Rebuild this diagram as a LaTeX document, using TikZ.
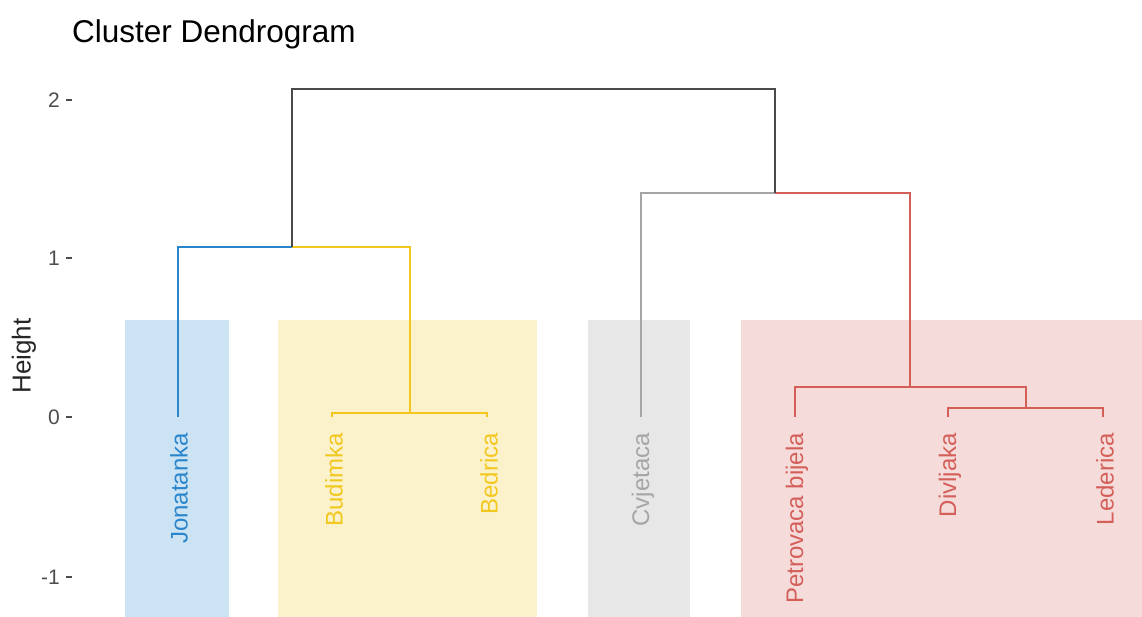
\documentclass[tikz,border=0pt]{standalone}
\usepackage{fontspec}
\setmainfont{Liberation Sans}
\definecolor{jblue}{HTML}{2A86CC}
\definecolor{jyel}{HTML}{F2C81F}
\definecolor{jgray}{HTML}{A5A5A5}
\definecolor{jred}{HTML}{D45F59}
\definecolor{fblue}{HTML}{CCE3F3}
\definecolor{fyel}{HTML}{FBF2CC}
\definecolor{fgray}{HTML}{E7E7E7}
\definecolor{fred}{HTML}{F5DCDB}
\definecolor{topc}{HTML}{4A4A4A}
\definecolor{tickc}{HTML}{4D4D4D}
\tikzset{
  branch/.style={line width=1.4pt},
  leaflab/.style={rotate=90, anchor=east, inner sep=0pt, font=\fontsize{24}{28}\selectfont},
  ticklab/.style={anchor=east, inner sep=0pt, text=tickc, font=\fontsize{21}{24}\selectfont},
  tickmark/.style={line width=1.2pt, draw=tickc},
}
\begin{document}
\begin{tikzpicture}[x=1pt,y=-1pt]
\useasboundingbox (0,0) rectangle (1142,617);
% cluster rectangles
\fill[fblue] (125,320) rectangle (229,617);
\fill[fyel] (278,320) rectangle (537,617);
\fill[fgray] (588,320) rectangle (690,617);
\fill[fred] (741,320) rectangle (1142,617);
% title
\node[anchor=west, inner sep=0pt, font=\fontsize{31.5}{35}\selectfont] (title) at (72,34) {Cluster Dendrogram};
% axis
\node[rotate=90, inner sep=0pt, text=black!85, font=\fontsize{26}{29}\selectfont] (ylab) at (24,356) {Height};
\foreach \v/\y in {2/100,1/258,0/417,-1/577}{
  \node[ticklab] (t\v) at (60,\y) {\v};
  \draw[tickmark] (66,\y) -- (72,\y);
}
% leaves
\coordinate (J) at (178,417);
\coordinate (Bu) at (332,417);
\coordinate (Be) at (487,417);
\coordinate (Cv) at (641,417);
\coordinate (Pe) at (795,417);
\coordinate (Di) at (948,417);
\coordinate (Le) at (1103,417);
% merges
\coordinate (mBB) at (410,413);
\coordinate (mDL) at (1026,408);
\coordinate (mPDL) at (910,387);
\coordinate (mJBB) at (292,247);
\coordinate (mCR) at (775,193);
\coordinate (mTop) at (533,89);
% branches
\draw[branch, jyel] (Bu) |- (mBB) -| (Be);
\draw[branch, jyel] (mBB) |- (mJBB);
\draw[branch, jblue] (J) |- (mJBB);
\draw[branch, jred] (Di) |- (mDL) -| (Le);
\draw[branch, jred] (Pe) |- (mPDL) -| (mDL);
\draw[branch, jred] (mPDL) |- (mCR);
\draw[branch, jgray] (Cv) |- (mCR);
\draw[branch, topc] (mJBB) |- (mTop) -| (mCR);
% labels
\node[leaflab, text=jblue] (lJ) at (179,433) {Jonatanka};
\node[leaflab, text=jyel] (lBu) at (334,433) {Budimka};
\node[leaflab, text=jyel] (lBe) at (489,433) {Bedrica};
\node[leaflab, text=jgray] (lCv) at (643,433) {Cvjetaca};
\node[leaflab, text=jred] (lPe) at (797,433) {Petrovaca bijela};
\node[leaflab, text=jred] (lDi) at (950,433) {Divljaka};
\node[leaflab, text=jred] (lLe) at (1105,433) {Lederica};
\end{tikzpicture}
\end{document}
